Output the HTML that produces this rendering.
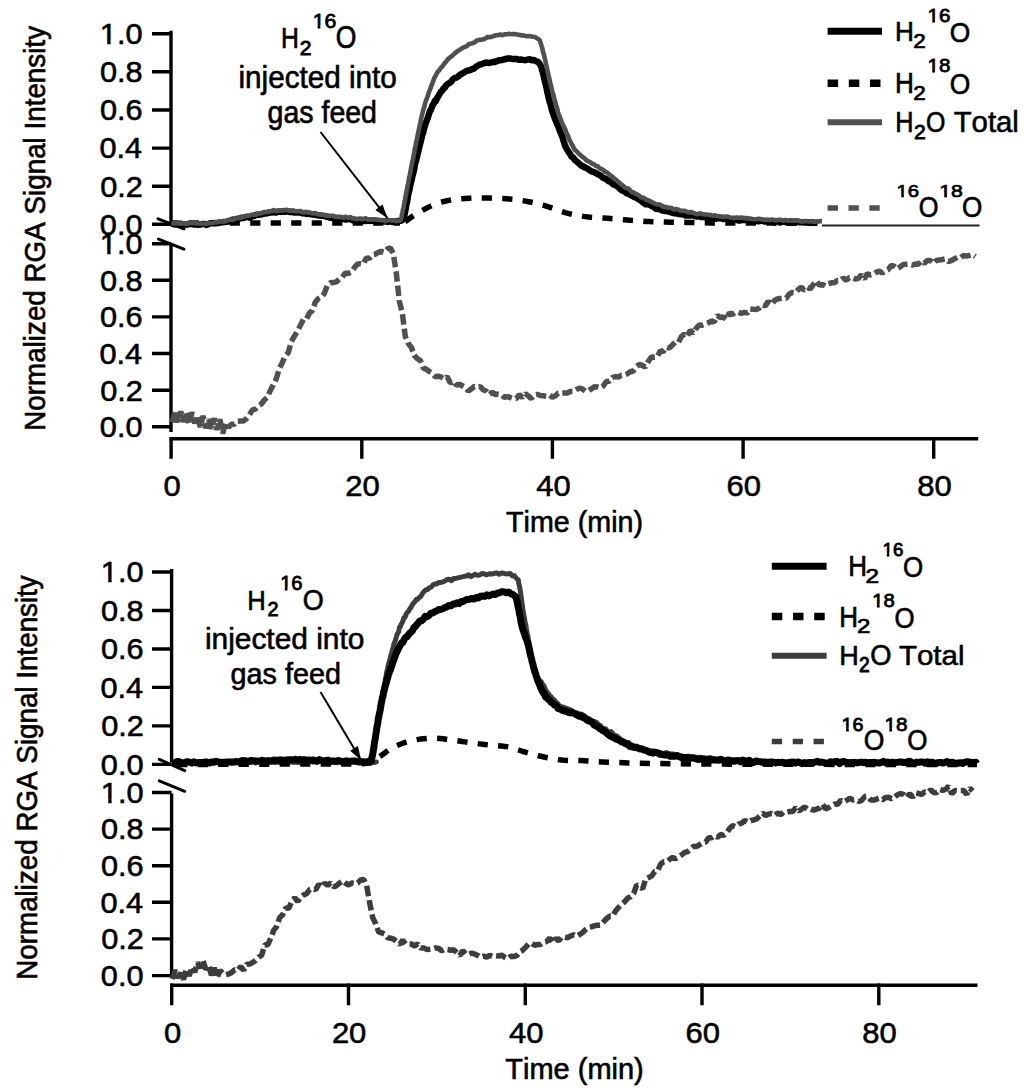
<!DOCTYPE html><html><head><meta charset="utf-8"><title>RGA signal</title><style>html,body{margin:0;padding:0;background:#fff;width:1024px;height:1092px;overflow:hidden;}svg{display:block;}text{font-family:"Liberation Sans",sans-serif;font-kerning:none;}</style></head><body><svg width="1024" height="1092" viewBox="0 0 1024 1092">
<rect width="1024" height="1092" fill="#fff"/>
<path d="M171.0 30.700000000000003V222.0M171.0 244.5V432.0" stroke="#000" stroke-width="3.4" fill="none"/>
<path d="M152 33.7H171.0M152 71.8H171.0M152 110.0H171.0M152 148.1H171.0M152 186.2H171.0M152 224.2H171.0M152 243.7H171.0M152 280.3H171.0M152 316.9H171.0M152 353.5H171.0M152 390.2H171.0M152 426.8H171.0" stroke="#000" stroke-width="3.4" fill="none"/>
<path d="M158.1 218.8L183.9 228.9" stroke="#000" stroke-width="3" stroke-linecap="round" fill="none"/>
<path d="M158.5 239.1L183.9 249.2" stroke="#000" stroke-width="3" stroke-linecap="round" fill="none"/>
<path d="M169.5 438.8H978.2" stroke="#000" stroke-width="3.4" fill="none"/>
<path d="M171.1 437.2V458.8M361.8 437.2V458.8M552.4 437.2V458.8M743.1 437.2V458.8M933.7 437.2V458.8" stroke="#000" stroke-width="3.4" fill="none"/>
<path d="M171.6 569.0V762.5M171.6 793.5V977.5" stroke="#000" stroke-width="3.4" fill="none"/>
<path d="M152 572.0H171.6M152 610.5H171.6M152 649.0H171.6M152 687.4H171.6M152 725.9H171.6M152 764.4H171.6M152 792.5H171.6M152 829.1H171.6M152 865.7H171.6M152 902.3H171.6M152 938.9H171.6M152 975.6H171.6" stroke="#000" stroke-width="3.4" fill="none"/>
<path d="M159.3 759.3L184.7 770.6" stroke="#000" stroke-width="3" stroke-linecap="round" fill="none"/>
<path d="M159.3 780.8L184.7 791.3" stroke="#000" stroke-width="3" stroke-linecap="round" fill="none"/>
<path d="M170.1 985.2H977.5" stroke="#000" stroke-width="3.4" fill="none"/>
<path d="M171.7 983.6V1005.2M348.5 983.6V1005.2M525.3 983.6V1005.2M702.0 983.6V1005.2M878.8 983.6V1005.2" stroke="#000" stroke-width="3.4" fill="none"/>
<path d="M171.5 223.0L180.0 223.0L191.8 223.0L205.8 223.0L220.8 223.0L235.9 223.0L250.0 223.0L263.4 223.0L276.9 223.0L290.5 223.0L304.0 223.0L317.2 223.0L330.0 223.0L343.1 223.0L356.7 223.0L370.0 223.0L382.2 223.0L392.5 223.0L400.0 223.0" stroke="#000" stroke-width="5.5" fill="none" stroke-linejoin="round" stroke-dasharray="10.2 10.3" stroke-dashoffset="3.3"/>
<path d="M400.0 223.0L400.6 222.8L401.4 222.6L402.4 222.4L403.5 222.1L404.8 221.6L406.0 221.0L407.2 220.2L408.4 219.3L409.7 218.3L411.2 217.2L413.0 215.9L415.1 214.6L417.7 213.1L420.8 211.3L424.2 209.4L427.7 207.6L431.2 205.9L434.4 204.5L437.4 203.4L440.2 202.5L443.0 201.7L445.9 201.0L448.8 200.4L451.8 199.9L455.0 199.4L458.4 199.0L461.8 198.7L465.2 198.5L468.6 198.3L471.9 198.1L475.0 198.0L478.1 197.9L481.0 197.9L484.0 198.0L487.0 198.0L490.1 198.1L493.3 198.2L496.5 198.3L499.7 198.4L502.9 198.5L506.2 198.7L509.4 199.0L512.6 199.3L515.8 199.7L519.1 200.1L522.3 200.6L525.5 201.1L528.6 201.7L531.7 202.3L534.8 203.0L537.8 203.8L540.8 204.6L543.9 205.4L546.9 206.3L549.9 207.3L552.9 208.4L555.8 209.5L558.8 210.7L561.9 211.7L565.2 212.7L568.7 213.6L572.4 214.4L576.2 215.1L580.0 215.8L583.7 216.4L587.3 216.9L590.7 217.3L594.1 217.6L597.4 217.8L600.7 217.9L603.9 218.1L607.2 218.3L610.5 218.6L613.8 218.9L617.1 219.2L620.5 219.4L623.7 219.7L627.0 220.0L630.2 220.3L633.4 220.5L636.5 220.8L639.7 221.0L642.9 221.2L646.1 221.4L649.4 221.6L652.7 221.7L656.0 221.8L659.3 221.9L662.6 222.0L666.0 222.1L669.2 222.2L672.3 222.2L675.4 222.3L678.7 222.3L682.3 222.3L686.5 222.4L690.6 222.5L694.3 222.6L698.4 222.7L703.6 222.8L710.5 222.9L720.0 223.0L733.7 223.1L751.5 223.1L771.1 223.1L790.2 223.2L806.6 223.2L818.0 223.2" stroke="#000" stroke-width="5.5" fill="none" stroke-linejoin="round" stroke-dasharray="10.2 10.3" stroke-dashoffset="15.13"/>
<path d="M171.5 223.6L173.7 224.2L175.9 224.4L178.1 224.0L180.3 223.7L182.5 224.2L184.7 224.4L186.9 224.7L189.1 223.9L191.3 223.8L193.5 224.5L195.7 224.4L197.9 224.8L200.1 224.5L202.3 224.1L204.5 224.0L206.7 224.9L208.9 223.8L211.1 223.4L213.3 223.1L215.5 223.3L217.6 223.0L219.8 222.5L222.0 222.3L224.2 222.0L226.3 221.8L228.5 221.5L230.6 220.8L232.8 219.6L234.9 220.0L237.1 218.8L239.2 218.7L241.4 217.8L243.5 217.9L245.7 217.1L247.8 217.0L250.0 217.7L252.1 216.1L254.3 215.9L256.5 214.7L258.6 214.7L260.8 214.6L262.9 213.9L265.1 213.6L267.3 213.2L269.4 212.4L271.6 212.6L273.8 211.9L276.0 212.6L278.2 211.6L280.4 211.9L282.6 211.5L284.8 211.8L287.0 211.3L289.2 212.0L291.4 211.7L293.6 212.4L295.7 212.4L297.9 212.4L300.1 212.4L302.3 213.2L304.5 213.3L306.7 214.0L308.8 213.6L311.0 214.3L313.2 214.6L315.4 214.8L317.5 215.2L319.7 215.6L321.9 215.7L324.0 215.9L326.2 216.5L328.4 217.1L330.6 217.8L332.7 217.9L334.9 218.1L337.1 218.3L339.3 218.5L341.5 218.6L343.7 219.0L345.9 219.5L348.1 219.0L350.3 219.1L352.4 220.2L354.6 219.8L356.8 220.2L359.0 220.3L361.2 219.8L363.4 221.1L365.6 221.0L367.8 220.6L370.0 220.9L372.2 220.8L374.4 220.6L376.6 220.9L378.8 221.2L381.0 221.5L383.2 221.5L385.4 221.4L387.6 221.9L389.8 221.3L392.0 221.9L394.2 222.0L396.4 221.6L398.6 220.9L400.7 220.8L402.5 219.9L403.7 218.4L404.2 216.7L404.7 213.6L405.1 211.8L405.5 209.9L405.9 207.4L406.3 204.5L406.7 203.4L407.1 201.8L407.5 199.2L407.9 196.3L408.3 194.4L408.7 192.4L409.2 191.1L409.7 188.3L410.1 185.9L410.6 184.3L411.1 181.6L411.6 180.1L412.2 177.1L412.7 175.0L413.2 173.3L413.7 171.4L414.2 169.0L414.6 166.7L415.1 163.8L415.6 162.1L416.2 160.0L416.7 157.9L417.2 156.1L417.7 153.7L418.2 151.9L418.7 149.5L419.2 147.2L419.7 145.3L420.3 143.2L420.8 141.3L421.4 138.7L421.9 136.6L422.5 134.1L423.1 133.0L423.6 130.8L424.2 128.1L424.9 125.9L425.5 123.6L426.2 122.0L426.9 119.9L427.6 118.5L428.4 115.8L429.2 113.4L430.0 110.7L430.8 110.0L431.7 107.6L432.7 105.0L433.7 103.7L434.7 101.1L435.9 101.0L437.0 98.3L438.3 96.3L439.5 94.2L440.8 91.8L442.1 90.7L443.5 88.5L444.9 87.5L446.4 85.0L447.9 83.8L449.5 83.0L451.2 81.7L452.9 79.4L454.7 78.0L456.5 77.6L458.3 76.4L460.2 74.6L462.1 73.6L464.0 72.5L466.0 71.3L468.0 70.5L470.0 70.3L472.0 69.1L473.9 68.6L475.9 66.8L477.8 65.7L479.8 64.5L481.8 64.1L484.0 63.1L486.1 62.5L488.3 62.9L490.4 62.7L492.6 62.1L494.8 61.9L496.9 61.1L499.1 60.3L501.2 60.2L503.4 59.6L505.6 59.0L507.8 58.5L509.9 58.4L512.1 58.9L514.3 59.0L516.5 58.9L518.7 59.7L520.9 59.5L523.1 59.9L525.3 60.2L527.5 59.6L529.7 59.2L531.9 60.2L534.1 60.0L536.2 61.2L538.1 61.9L539.6 63.8L540.6 65.7L541.4 66.7L542.0 69.8L542.6 71.5L543.1 73.6L543.7 75.8L544.2 78.4L544.7 80.5L545.2 82.7L545.6 83.9L546.1 86.5L546.6 88.0L547.1 90.9L547.6 93.3L548.1 95.0L548.6 97.5L549.1 99.6L549.7 102.0L550.3 103.5L550.8 105.6L551.4 107.7L552.1 110.7L552.7 112.6L553.4 114.3L554.1 116.5L554.9 118.5L555.7 120.6L556.5 122.5L557.3 124.5L558.2 126.2L559.0 128.4L559.9 131.3L560.7 132.9L561.5 134.8L562.3 136.7L563.0 138.9L563.6 141.1L564.3 142.9L565.0 145.3L565.8 147.3L566.8 148.9L567.9 150.8L569.1 152.6L570.3 154.4L571.7 156.8L573.1 157.4L574.6 159.7L576.2 161.1L577.9 162.5L579.7 164.1L581.5 165.7L583.3 166.5L585.2 167.5L587.1 168.4L589.1 169.7L591.0 171.2L592.9 171.8L594.8 172.6L596.7 173.6L598.7 174.6L600.6 175.6L602.6 177.5L604.5 178.3L606.4 179.2L608.3 181.0L610.1 181.5L611.9 183.2L613.6 184.6L615.4 185.1L617.2 186.3L619.0 187.8L620.9 189.6L622.7 190.9L624.6 191.2L626.5 193.1L628.4 193.7L630.3 194.8L632.2 195.8L634.2 197.0L636.1 197.5L638.0 198.8L639.9 199.8L641.9 201.5L643.8 203.1L645.7 204.3L647.7 204.3L649.7 204.8L651.7 206.1L653.7 206.8L655.7 208.7L657.8 208.9L659.9 209.2L662.0 210.4L664.1 210.9L666.2 210.7L668.4 211.6L670.5 212.2L672.6 212.8L674.8 213.3L677.0 213.5L679.1 214.1L681.3 214.2L683.5 214.4L685.7 215.5L687.8 215.4L690.0 215.6L692.2 215.1L694.4 215.9L696.6 216.5L698.8 216.0L701.0 217.1L703.1 216.8L705.3 217.3L707.5 217.3L709.7 217.7L711.9 218.2L714.1 217.9L716.3 218.7L718.5 218.1L720.7 218.2L722.9 219.0L725.1 218.5L727.2 218.9L729.4 219.5L731.6 219.8L733.8 218.9L736.0 219.8L738.2 220.5L740.4 220.4L742.6 220.0L744.8 220.0L747.0 220.2L749.2 220.1L751.4 220.5L753.6 220.6L755.8 220.8L758.0 221.3L760.2 221.0L762.4 220.6L764.6 221.6L766.8 221.0L769.0 221.3L771.2 221.5L773.4 221.5L775.6 221.3L777.8 221.6L780.0 222.6L782.2 221.6L784.4 221.9L786.6 222.3L788.8 222.2L791.0 222.3L793.2 222.4L795.4 221.4L797.6 221.8L799.8 222.2L802.0 222.3L804.2 222.6L806.4 222.4L808.6 222.2L810.8 222.3L813.0 222.2L814.0 222.4" stroke="#000" stroke-width="6.5" fill="none" stroke-linejoin="round" />
<path d="M822 225.5H979.5" stroke="#222" stroke-width="1.8" fill="none"/>
<path d="M171.5 222.7L173.7 223.3L175.9 223.2L178.1 223.1L180.3 223.7L182.5 223.4L184.7 223.3L186.9 224.0L189.1 223.2L191.3 222.9L193.5 222.9L195.7 223.1L197.9 223.5L200.1 223.5L202.3 223.6L204.5 223.7L206.7 223.6L208.9 223.1L211.1 223.2L213.3 222.8L215.5 222.1L217.6 222.3L219.8 221.7L222.0 221.3L224.2 221.7L226.3 220.8L228.5 220.0L230.6 219.6L232.8 220.0L234.9 218.6L237.1 218.5L239.2 217.9L241.4 217.4L243.5 217.0L245.7 216.1L247.8 215.7L250.0 215.3L252.1 214.8L254.3 214.8L256.4 214.6L258.6 213.3L260.7 213.4L262.9 212.4L265.1 212.1L267.2 211.9L269.4 211.6L271.6 211.1L273.8 210.1L275.9 211.3L278.1 210.5L280.3 210.2L282.5 210.6L284.7 210.1L286.9 209.9L289.1 210.6L291.3 210.8L293.5 210.5L295.7 211.3L297.9 211.3L300.1 211.1L302.3 212.3L304.4 212.1L306.6 211.9L308.8 212.7L311.0 212.9L313.2 213.5L315.3 213.0L317.5 214.2L319.7 214.5L321.9 214.8L324.0 215.1L326.2 215.6L328.4 215.7L330.6 215.8L332.8 215.7L334.9 216.7L337.1 216.9L339.3 216.9L341.5 217.1L343.7 217.6L345.9 216.7L348.1 217.9L350.2 217.1L352.4 218.3L354.6 218.8L356.8 219.2L359.0 218.6L361.2 219.0L363.4 219.0L365.6 218.3L367.8 219.5L370.0 219.3L372.2 219.4L374.4 219.2L376.6 219.6L378.8 219.7L381.0 220.2L383.2 220.0L385.4 221.2L387.6 220.0L389.8 220.2L392.0 220.4L394.2 220.2L396.4 221.1L398.6 220.8L400.4 220.3L401.0 218.6L401.6 216.9L402.1 213.8L402.5 212.2L402.9 209.9L403.4 208.7L403.8 205.8L404.2 203.4L404.6 201.2L405.0 199.9L405.4 196.9L405.8 195.7L406.3 192.2L406.7 190.5L407.1 188.3L407.5 186.0L408.0 184.0L408.4 182.2L408.8 179.6L409.2 177.1L409.7 175.9L410.1 173.8L410.5 170.9L411.0 169.1L411.4 165.9L411.8 165.1L412.2 162.1L412.7 160.2L413.1 159.0L413.5 155.6L414.0 153.9L414.4 151.4L414.8 148.9L415.3 147.0L415.7 145.4L416.1 142.6L416.5 140.7L417.0 139.1L417.4 136.6L417.9 134.0L418.3 132.9L418.7 130.2L419.2 128.5L419.7 125.5L420.1 124.3L420.6 121.1L421.0 118.8L421.5 117.1L422.0 115.0L422.5 113.1L423.1 110.6L423.6 108.9L424.2 107.1L424.9 104.3L425.5 101.9L426.2 100.2L426.9 98.5L427.7 96.4L428.4 94.0L429.1 91.7L429.9 89.9L430.6 88.2L431.4 85.5L432.1 84.2L432.9 81.7L433.7 79.7L434.5 77.4L435.5 76.1L436.6 73.8L437.9 71.4L439.1 70.4L440.5 68.2L441.9 67.0L443.3 65.0L444.7 63.1L446.1 61.6L447.5 59.7L449.1 58.1L450.7 56.9L452.4 55.7L454.0 54.0L455.7 52.6L457.5 51.1L459.2 50.2L461.1 48.8L462.9 47.9L464.9 46.7L466.9 46.3L468.8 44.1L470.9 43.7L472.9 43.0L474.9 42.3L476.9 40.5L479.0 39.9L481.1 39.7L483.2 39.4L485.2 38.7L487.3 37.1L489.5 37.1L491.6 36.9L493.7 36.0L495.9 35.3L498.1 35.1L500.3 34.5L502.4 35.2L504.6 34.4L506.8 34.2L509.0 33.9L511.2 34.2L513.4 34.0L515.6 34.1L517.8 34.7L520.0 34.9L522.2 35.4L524.3 35.6L526.5 36.2L528.7 36.0L530.9 36.3L533.1 36.7L535.2 37.0L537.2 38.5L538.9 39.3L540.0 40.9L540.9 43.9L541.5 45.8L542.1 47.5L542.6 50.1L543.2 52.3L543.7 54.3L544.2 55.8L544.7 58.4L545.2 60.1L545.7 62.4L546.2 64.6L546.6 66.6L547.1 69.2L547.6 70.9L548.1 73.6L548.6 75.6L549.1 77.4L549.6 79.8L550.1 82.2L550.6 84.5L551.2 86.1L551.7 89.0L552.2 90.7L552.7 93.1L553.3 94.3L553.8 96.5L554.4 99.4L555.0 101.0L555.6 103.4L556.2 105.8L556.8 107.0L557.4 109.7L558.1 112.4L558.7 114.1L559.4 115.9L560.2 118.1L561.0 120.0L561.8 122.3L562.7 124.5L563.6 125.9L564.6 128.2L565.5 130.1L566.3 132.3L567.2 134.4L568.0 135.7L568.9 138.6L569.7 140.5L570.6 141.8L571.6 144.1L572.6 145.6L573.7 147.9L575.0 149.9L576.4 151.1L577.9 152.8L579.5 154.3L581.2 155.8L582.9 157.2L584.6 158.4L586.4 160.3L588.2 161.2L590.1 162.1L592.1 163.8L594.0 164.3L595.9 165.9L597.8 166.3L599.6 168.4L601.5 169.0L603.3 170.0L605.1 171.8L606.9 172.4L608.7 173.8L610.5 175.6L612.2 176.6L614.0 178.3L615.7 179.6L617.4 181.0L619.0 182.4L620.7 184.0L622.4 185.1L624.2 186.9L626.0 188.1L627.8 188.3L629.6 189.6L631.5 191.9L633.4 192.3L635.3 193.6L637.3 194.6L639.2 195.7L641.1 197.5L643.0 197.5L645.0 198.9L646.9 199.9L648.9 200.5L650.8 201.5L652.8 202.7L654.9 203.6L656.9 204.5L659.0 204.4L661.1 205.1L663.3 206.9L665.4 206.8L667.5 207.7L669.7 207.7L671.8 208.1L673.9 209.6L676.1 209.0L678.2 209.6L680.4 210.6L682.5 210.8L684.7 210.7L686.8 211.8L689.0 212.4L691.1 212.0L693.3 212.8L695.5 213.6L697.7 214.3L699.8 213.2L702.0 214.0L704.2 214.5L706.4 214.5L708.6 214.7L710.8 215.1L712.9 215.7L715.1 215.3L717.3 216.2L719.5 216.4L721.7 216.6L723.9 217.1L726.1 216.6L728.3 216.9L730.5 217.5L732.7 217.8L734.8 217.9L737.0 217.6L739.2 217.7L741.4 217.6L743.6 218.1L745.8 218.1L748.0 218.4L750.2 218.6L752.4 219.1L754.6 219.3L756.8 219.1L759.0 218.8L761.2 219.3L763.4 219.6L765.6 219.8L767.8 219.7L770.0 220.0L772.2 219.5L774.4 220.1L776.6 220.2L778.8 219.9L781.0 219.9L783.2 220.7L785.4 220.0L787.6 220.6L789.8 220.4L792.0 220.4L794.2 220.6L796.4 220.6L798.6 220.8L800.8 221.5L803.0 221.5L805.2 221.0L807.4 221.3L809.6 221.5L811.7 221.1L813.9 222.0L816.1 221.4L818.3 221.6L820.5 221.1L822.0 221.1" stroke="#505050" stroke-width="4.6" fill="none" stroke-linejoin="round" />
<path d="M172.3 422.3L175.1 410.3L177.9 422.4L180.7 411.4L183.5 421.9L186.3 412.1L189.1 424.1L191.9 412.3L194.7 423.2L197.5 416.1L200.3 427.0L203.1 415.9L205.9 428.2L208.7 419.2L211.5 428.8L214.3 418.3L217.1 429.8L219.9 419.3L222.7 433.6L225.5 422.8L228.3 427.4L231.3 424.3L234.3 424.2L237.3 421.2L240.3 421.1L243.3 421.1L246.3 418.8L249.3 415.2L252.3 410.0L255.3 409.2L258.3 405.8L261.3 404.0L264.3 400.0L267.3 397.4L270.3 390.5L273.3 384.9L276.3 378.7L279.3 368.6L282.3 362.7L285.3 355.7L288.3 352.6L291.3 341.7L294.3 336.4L297.3 331.4L300.3 325.6L303.3 319.4L306.3 319.3L309.3 313.2L312.3 310.7L315.3 302.2L318.3 298.6L321.3 297.1L324.3 293.4L327.3 285.6L330.3 282.8L333.3 282.6L336.3 281.9L339.3 279.1L342.3 277.2L345.3 273.0L348.3 273.5L351.3 272.2L354.3 267.8L357.3 264.3L360.3 263.6L363.3 264.1L366.3 257.9L369.3 258.4L372.3 254.8L375.3 254.2L378.3 252.4L381.3 251.3L384.3 252.3L387.3 249.1L390.3 247.7L393.3 253.5L396.3 272.9L399.3 300.9L402.3 313.0L405.3 336.5L408.3 343.6L411.3 347.2L414.3 355.3L417.3 358.6L420.3 360.3L423.3 367.9L426.3 369.3L429.3 371.5L432.3 373.3L435.3 376.8L438.3 376.2L441.3 377.2L444.3 379.1L447.3 376.8L450.3 383.1L453.3 381.1L456.3 385.2L459.3 384.3L462.3 385.8L465.3 387.4L468.3 391.0L471.3 388.9L474.3 386.5L477.3 387.1L480.3 386.6L483.3 390.0L486.3 391.0L489.3 394.6L492.3 392.2L495.3 394.5L498.3 394.1L501.3 394.7L504.3 397.3L507.3 396.6L510.3 397.5L513.3 398.6L516.3 398.6L519.3 394.6L522.3 397.5L525.3 393.6L528.3 395.9L531.3 398.6L534.3 394.9L537.3 394.4L540.3 395.5L543.3 395.8L546.3 396.2L549.3 394.9L552.3 397.2L555.3 395.9L558.3 393.1L561.3 393.1L564.3 393.0L567.3 393.0L570.3 391.5L573.3 391.5L576.3 389.6L579.3 388.1L582.3 388.9L585.3 391.2L588.3 390.8L591.3 388.9L594.3 386.8L597.3 387.0L600.3 387.9L603.3 386.0L606.3 381.5L609.3 381.2L612.3 377.5L615.3 376.5L618.3 377.1L621.3 375.2L624.3 375.0L627.3 373.9L630.3 371.7L633.3 371.0L636.3 366.7L639.3 364.3L642.3 365.4L645.3 367.1L648.3 361.5L651.3 357.1L654.3 357.2L657.3 357.0L660.3 350.8L663.3 351.6L666.3 347.2L669.3 348.1L672.3 345.1L675.3 342.2L678.3 342.7L681.3 336.7L684.3 334.2L687.3 336.4L690.3 330.2L693.3 333.4L696.3 328.1L699.3 325.0L702.3 325.2L705.3 324.0L708.3 322.8L711.3 321.0L714.3 321.9L717.3 315.5L720.3 317.5L723.3 317.1L726.3 319.7L729.3 312.8L732.3 314.5L735.3 312.4L738.3 312.3L741.3 313.5L744.3 312.3L747.3 313.1L750.3 308.9L753.3 309.3L756.3 309.6L759.3 308.0L762.3 304.8L765.3 305.9L768.3 301.4L771.3 304.5L774.3 300.7L777.3 299.0L780.3 298.4L783.3 298.1L786.3 298.2L789.3 294.0L792.3 292.5L795.3 292.9L798.3 289.5L801.3 287.2L804.3 290.3L807.3 287.4L810.3 288.9L813.3 284.6L816.3 280.9L819.3 285.2L822.3 284.3L825.3 286.0L828.3 283.7L831.3 282.8L834.3 282.7L837.3 280.6L840.3 280.7L843.3 277.9L846.3 280.3L849.3 277.6L852.3 277.6L855.3 278.9L858.3 278.6L861.3 274.8L864.3 278.8L867.3 273.7L870.3 275.0L873.3 274.3L876.3 272.2L879.3 271.2L882.3 273.0L885.3 270.8L888.3 269.5L891.3 265.2L894.3 266.4L897.3 268.9L900.3 266.8L903.3 264.4L906.3 264.3L909.3 264.2L912.3 265.1L915.3 264.0L918.3 264.3L921.3 260.9L924.3 263.2L927.3 260.4L930.3 260.4L933.3 263.4L936.3 260.5L939.3 259.9L942.3 259.5L945.3 258.9L948.3 261.5L951.3 260.7L954.3 258.9L957.3 257.3L960.3 258.0L963.3 255.6L966.3 256.0L969.3 255.5L972.3 254.5L975.3 256.6" stroke="#505050" stroke-width="5.5" fill="none" stroke-linejoin="bevel" stroke-dasharray="10.5 4"/>
<path d="M172.0 762.4L174.2 763.4L176.4 762.0L178.6 761.4L180.8 762.6L183.0 762.8L185.2 762.7L187.4 762.8L189.6 762.4L191.8 762.1L194.0 762.0L196.2 762.3L198.4 762.2L200.6 763.0L202.8 762.8L205.0 761.6L207.2 762.8L209.4 762.3L211.6 763.0L213.8 763.2L216.0 762.7L218.2 761.2L220.4 762.7L222.6 761.3L224.8 763.2L227.0 761.9L229.2 762.1L231.4 763.3L233.6 761.2L235.8 762.2L238.0 761.6L240.2 761.9L242.4 761.7L244.6 762.6L246.8 762.0L249.0 762.4L251.2 762.5L253.4 761.1L255.6 763.0L257.8 762.0L260.0 761.1L262.2 761.7L264.4 762.6L266.6 762.7L268.8 761.6L271.0 762.1L273.2 762.2L275.4 762.6L277.6 761.9L279.8 762.6L282.0 761.4L284.2 761.5L286.4 762.4L288.6 762.4L290.8 761.9L293.0 762.3L295.2 762.0L297.4 762.4L299.6 762.6L301.8 762.2L304.0 762.4L306.2 761.6L308.4 761.5L310.6 760.4L312.8 762.1L315.0 761.8L317.2 762.1L319.4 760.6L321.6 761.5L323.8 761.4L326.0 760.6L328.2 762.3L330.4 762.5L332.6 760.9L334.8 762.0L337.0 762.7L339.2 760.9L341.4 762.3L343.6 762.6L345.8 762.8L348.0 760.8L350.2 761.0L352.4 761.7L354.6 762.3L356.8 760.8L359.0 761.1L361.2 760.9L363.4 762.2L365.6 761.2L367.8 761.9L370.0 762.0L372.2 762.3L374.4 761.9L376.4 761.9L374.2 762.5L372.0 762.1L369.8 761.0L370.3 760.9L371.5 760.0L372.0 757.4L372.5 754.9L372.9 753.1L373.3 752.9L373.6 748.6L373.9 746.8L374.3 744.6L374.6 742.0L374.9 740.7L375.3 738.3L375.7 735.9L376.0 732.6L376.4 732.0L376.8 729.6L377.1 726.9L377.5 723.1L377.8 722.6L378.2 719.7L378.6 718.1L378.9 715.8L379.3 713.4L379.6 712.4L380.0 709.6L380.4 708.2L380.7 704.6L381.1 702.9L381.4 701.7L381.8 698.9L382.2 696.1L382.5 693.8L382.9 691.8L383.3 690.0L383.7 688.3L384.1 685.8L384.5 684.0L384.9 681.9L385.3 679.3L385.7 677.9L386.2 675.4L386.6 672.6L387.1 670.5L387.6 668.5L388.1 665.9L388.7 663.4L389.2 662.1L389.8 659.6L390.3 658.2L390.9 655.3L391.5 653.6L392.0 651.6L392.6 649.0L393.2 647.3L393.8 644.6L394.4 642.7L395.1 641.4L395.8 639.0L396.5 636.7L397.2 634.1L397.9 633.0L398.7 631.7L399.5 627.1L400.3 627.0L401.1 624.5L402.0 623.0L402.9 621.1L403.9 617.7L405.0 617.5L406.1 614.2L407.2 612.5L408.5 611.2L409.7 609.0L410.9 607.4L412.2 605.1L413.5 603.0L414.8 601.9L416.2 599.5L417.7 599.4L419.3 597.2L420.9 596.4L422.6 593.3L424.2 591.3L425.9 589.8L427.6 589.6L429.3 587.6L431.1 587.3L432.9 585.0L434.8 583.9L436.7 583.9L438.7 582.5L440.8 582.4L442.9 581.8L445.0 581.0L447.1 579.5L449.3 579.2L451.4 580.6L453.5 578.6L455.7 578.4L457.9 577.9L460.0 577.4L462.2 576.9L464.4 576.3L466.5 576.0L468.7 574.8L470.9 576.7L473.1 575.3L475.2 574.3L477.4 575.2L479.6 575.0L481.8 573.5L484.0 573.8L486.2 574.8L488.4 574.1L490.6 573.8L492.8 574.0L494.9 573.2L497.1 573.0L499.3 574.2L501.5 573.1L503.7 573.3L505.9 573.9L508.1 573.8L510.3 573.5L512.4 576.0L514.4 575.6L516.2 578.1L517.4 579.1L518.3 580.2L518.8 583.9L519.2 585.0L519.6 586.7L520.0 589.4L520.3 590.3L520.7 594.0L521.0 595.5L521.3 598.0L521.6 599.7L522.0 602.9L522.3 604.9L522.6 607.5L522.9 610.0L523.2 611.3L523.6 613.4L523.9 615.7L524.3 617.2L524.7 619.5L525.1 622.5L525.5 623.7L525.9 625.2L526.3 628.3L526.7 630.8L527.1 633.7L527.5 634.5L528.0 636.6L528.4 639.4L528.8 641.4L529.2 643.8L529.6 645.5L530.1 648.1L530.5 649.8L530.9 652.9L531.2 654.6L531.6 657.0L531.9 658.5L532.3 660.1L532.7 663.1L533.1 665.2L533.5 668.1L534.0 670.2L534.6 671.7L535.4 673.7L536.3 675.2L537.4 677.6L538.7 679.5L540.2 680.8L541.6 682.1L542.9 685.3L544.0 685.8L545.2 689.3L546.3 690.9L547.4 693.1L548.5 693.5L549.8 696.2L551.1 696.7L552.6 699.0L554.1 699.8L555.7 701.8L557.4 703.3L559.2 705.5L561.1 706.7L563.0 706.9L565.0 708.0L566.9 708.5L568.9 709.4L570.9 709.9L573.0 711.6L575.1 712.9L577.1 712.8L579.2 714.2L581.2 714.1L583.3 715.1L585.2 716.4L587.1 718.3L589.0 718.5L590.9 720.5L592.8 721.0L594.7 721.7L596.5 722.3L598.3 724.4L600.2 725.4L602.0 727.7L603.8 728.7L605.6 728.7L607.5 731.4L609.3 732.4L611.1 731.5L613.0 733.9L614.8 735.8L616.7 735.8L618.6 737.5L620.5 739.3L622.5 740.2L624.4 741.3L626.4 742.4L628.4 742.4L630.5 745.2L632.5 744.9L634.5 746.7L636.6 746.0L638.7 747.2L640.7 747.8L642.8 748.2L644.9 749.1L647.1 749.7L649.2 750.6L651.3 750.8L653.5 751.1L655.6 751.9L657.8 752.9L659.9 752.5L662.1 753.2L664.3 753.4L666.4 752.5L668.6 753.5L670.8 753.8L672.9 753.9L675.1 754.7L677.3 754.4L679.5 755.9L681.6 755.7L683.8 757.1L686.0 756.8L688.2 756.1L690.4 757.0L692.6 757.3L694.8 757.1L696.9 757.5L699.1 757.3L701.3 757.7L703.5 758.4L705.7 758.2L707.9 759.3L710.1 757.5L712.3 758.4L714.5 758.8L716.7 760.1L718.9 760.0L721.1 759.9L723.3 760.2L725.5 760.7L727.7 760.3L729.9 759.8L732.1 760.2L734.3 759.8L736.5 760.2L738.6 760.7L740.8 760.3L743.0 760.7L745.2 760.5L747.4 760.1L749.6 760.2L751.8 761.6L754.0 761.3L756.2 761.9L758.4 761.4L760.6 761.6L762.8 761.9L765.0 761.6L767.2 762.8L769.4 762.7L771.6 762.4L773.8 761.6L776.0 762.1L778.2 762.6L780.4 763.3L782.6 762.7L784.8 762.8L785.0 763.1" stroke="#3d3d3d" stroke-width="5" fill="none" stroke-linejoin="round" />
<path d="M172.0 764.5L186.7 764.4L207.5 764.4L231.9 764.3L257.3 764.2L280.8 764.1L300.0 764.0L315.1 764.0L328.3 764.0L339.7 764.0L349.6 764.0L358.0 763.8L365.0 763.5L370.0 763.0L372.8 762.4L374.1 761.6L374.7 760.7L375.5 759.7L377.1 758.4L379.5 756.8L382.0 755.0L384.7 753.0L387.4 750.9L390.2 749.0L393.2 747.3L396.3 745.8L399.6 744.5L403.0 743.2L406.4 742.1L409.9 741.1L413.3 740.3L416.7 739.6L420.1 739.1L423.5 738.8L426.9 738.5L430.3 738.4L433.5 738.3L436.7 738.3L439.8 738.5L442.8 738.8L445.8 739.2L448.7 739.5L451.6 739.9L454.4 740.3L457.0 740.6L459.5 741.0L462.1 741.5L464.8 741.9L467.7 742.3L470.8 742.7L474.1 743.2L477.6 743.6L481.0 744.1L484.5 744.5L487.9 744.9L491.3 745.2L494.7 745.5L498.1 745.7L501.5 746.0L504.8 746.4L508.0 746.9L511.1 747.6L514.1 748.5L517.1 749.5L520.1 750.5L523.0 751.5L526.1 752.4L529.2 753.3L532.4 754.1L535.6 755.0L538.8 755.8L542.0 756.5L545.2 757.2L548.4 757.8L551.7 758.4L555.0 759.0L558.2 759.5L561.5 759.9L564.8 760.2L568.0 760.4L571.1 760.5L574.2 760.5L577.4 760.5L580.8 760.6L584.4 760.7L587.6 760.9L590.1 761.1L592.8 761.4L596.5 761.7L601.9 762.0L610.0 762.3L619.1 762.6L628.3 762.9L639.3 763.2L653.8 763.5L673.4 763.8L700.0 764.0L738.6 764.2L788.7 764.3L844.1 764.4L898.3 764.4L944.7 764.5L977.0 764.5" stroke="#000" stroke-width="5.5" fill="none" stroke-linejoin="round" stroke-dasharray="10.2 10.3" stroke-dashoffset="15.33"/>
<path d="M172.0 763.1L174.2 763.0L176.4 761.8L178.6 761.5L180.8 762.4L183.0 762.8L185.2 762.4L187.4 761.7L189.6 762.2L191.8 763.1L194.0 761.7L196.2 762.9L198.4 762.6L200.6 762.5L202.8 762.6L205.0 762.0L207.2 762.1L209.4 763.1L211.6 761.9L213.8 761.9L216.0 761.3L218.2 761.8L220.4 762.3L222.6 762.5L224.8 762.2L227.0 762.1L229.2 762.1L231.4 761.9L233.6 762.2L235.8 761.5L238.0 762.1L240.2 761.5L242.4 760.6L244.6 760.7L246.8 761.2L249.0 761.0L251.2 760.5L253.4 760.7L255.6 761.0L257.8 761.1L260.0 761.2L262.2 760.3L264.4 760.8L266.6 761.0L268.8 760.6L271.0 761.2L273.2 760.1L275.4 760.2L277.6 760.3L279.8 759.9L282.0 760.1L284.2 760.2L286.4 760.0L288.6 759.8L290.8 759.8L293.0 760.0L295.2 759.3L297.4 760.1L299.6 759.5L301.8 760.0L304.0 759.6L306.2 760.2L308.4 760.1L310.6 760.2L312.8 760.0L315.0 760.5L317.2 761.3L319.4 759.6L321.6 760.8L323.8 760.8L326.0 760.5L328.2 760.1L330.4 761.6L332.6 760.9L334.8 761.4L337.0 760.8L339.2 760.6L341.4 761.6L343.6 761.5L345.8 761.0L348.0 761.1L350.2 761.6L352.3 760.9L354.5 761.0L356.7 761.4L358.9 762.0L361.1 762.0L363.3 761.7L365.5 762.4L367.7 761.7L369.9 761.0L371.3 761.0L371.9 757.5L372.4 755.8L372.8 753.7L373.2 751.3L373.5 749.2L373.9 747.2L374.2 745.0L374.5 742.2L374.9 740.4L375.2 738.9L375.6 736.4L375.9 733.6L376.3 731.7L376.6 729.0L377.0 726.7L377.4 724.9L377.7 723.8L378.1 720.5L378.5 717.7L378.9 716.4L379.3 714.0L379.7 712.5L380.1 710.6L380.5 707.7L380.9 705.7L381.3 703.1L381.7 701.9L382.2 698.8L382.6 697.1L383.1 696.1L383.6 692.3L384.1 690.7L384.6 688.5L385.1 686.6L385.7 684.4L386.3 682.8L386.9 680.2L387.6 678.2L388.2 675.2L388.9 673.9L389.6 671.0L390.4 670.1L391.1 667.4L391.8 665.9L392.6 663.1L393.3 661.3L394.0 659.2L394.7 657.4L395.5 655.0L396.4 652.7L397.4 650.9L398.4 648.8L399.4 646.7L400.5 644.7L401.7 642.7L402.9 642.5L404.2 639.4L405.5 637.5L407.0 636.8L408.4 634.8L409.8 633.0L411.3 631.9L412.6 630.5L413.9 627.4L415.2 626.8L416.6 624.6L418.1 623.3L419.7 621.0L421.5 620.7L423.3 619.2L425.1 616.2L426.9 616.8L428.8 615.7L430.7 613.3L432.6 613.1L434.6 611.8L436.6 611.0L438.6 609.6L440.6 609.5L442.7 608.8L444.8 607.6L446.8 607.0L448.9 605.4L451.0 605.8L453.0 604.1L455.1 604.0L457.1 602.7L459.2 603.6L461.2 601.5L463.3 601.5L465.4 600.0L467.5 599.4L469.6 599.2L471.8 598.4L473.9 599.1L476.1 597.5L478.3 598.0L480.4 596.3L482.6 596.1L484.8 596.4L486.9 594.9L489.0 596.0L491.2 594.8L493.3 594.1L495.5 594.5L497.6 593.0L499.8 592.7L502.0 591.6L504.2 591.9L506.4 592.7L508.6 592.0L510.8 593.7L512.9 594.5L514.5 595.7L515.6 596.5L516.4 599.0L517.0 600.8L517.5 604.0L518.0 606.3L518.4 607.8L518.9 610.1L519.3 612.4L519.7 614.8L520.1 616.2L520.5 618.3L520.9 621.3L521.3 623.3L521.8 625.5L522.3 627.4L523.0 629.8L523.7 631.8L524.4 633.3L525.2 636.5L525.9 638.3L526.6 639.7L527.3 641.9L527.8 643.7L528.4 645.5L528.9 647.8L529.4 649.8L529.9 652.3L530.4 654.9L530.9 656.9L531.5 658.3L532.0 661.1L532.5 663.0L533.1 664.9L533.7 668.1L534.3 669.2L534.9 672.2L535.5 673.0L536.2 676.1L536.9 677.7L537.7 680.6L538.5 682.4L539.3 683.8L540.2 686.5L541.1 688.8L542.1 690.8L543.2 692.8L544.3 693.8L545.5 696.9L546.8 697.4L548.1 699.3L549.6 700.2L551.2 702.4L552.9 703.2L554.6 705.3L556.5 705.6L558.3 708.6L560.3 709.1L562.3 710.4L564.3 711.0L566.4 711.3L568.4 712.3L570.5 712.9L572.5 712.6L574.6 713.7L576.7 714.8L578.8 716.2L580.8 715.8L582.8 717.5L584.8 718.1L586.7 719.8L588.6 721.0L590.4 721.3L592.3 722.4L594.1 725.0L595.9 726.0L597.7 726.7L599.5 728.4L601.3 729.3L603.1 730.8L604.9 731.6L606.8 733.3L608.6 735.0L610.5 736.1L612.4 737.1L614.3 737.7L616.2 739.2L618.1 739.6L620.0 740.7L621.9 742.0L623.9 742.4L625.8 744.0L627.9 744.0L629.9 746.5L631.9 746.9L634.0 747.4L636.1 747.6L638.2 748.3L640.3 749.1L642.4 749.1L644.5 750.3L646.6 750.6L648.8 752.0L650.9 752.7L653.1 753.2L655.2 752.2L657.4 752.6L659.6 754.3L661.7 754.4L663.9 754.9L666.1 755.0L668.3 755.2L670.4 756.4L672.6 756.1L674.8 756.3L677.0 755.8L679.2 756.6L681.3 757.5L683.5 757.4L685.7 757.8L687.9 757.5L690.1 758.2L692.3 757.8L694.5 758.2L696.6 759.0L698.8 759.5L701.0 758.7L703.2 758.9L705.4 759.1L707.6 759.2L709.8 759.5L712.0 760.1L714.2 759.9L716.4 759.9L718.6 760.3L720.8 759.3L723.0 760.2L725.2 761.4L727.4 760.0L729.6 760.3L731.8 760.8L734.0 761.3L736.2 760.8L738.4 760.5L740.6 761.8L742.8 760.0L745.0 760.8L747.2 761.0L749.4 760.3L751.6 762.2L753.8 762.6L756.0 760.9L758.2 761.6L760.4 761.7L762.5 762.3L764.7 761.9L766.9 762.3L769.1 762.3L771.3 762.1L773.5 762.2L775.7 762.9L777.9 762.3L780.1 762.6L782.3 762.3L784.5 762.7L786.7 763.1L788.9 762.4L791.1 762.1L793.3 762.0L795.5 762.9L797.7 762.0L799.9 762.6L802.1 763.7L804.3 762.5L806.5 763.3L808.7 762.4L810.9 762.4L813.1 762.7L815.3 762.0L817.5 761.2L819.7 762.4L821.9 762.1L824.1 762.6L826.3 763.4L828.5 762.8L830.7 761.7L832.9 762.7L835.1 761.6L837.3 761.4L839.5 763.6L841.7 762.0L843.9 761.4L846.1 762.4L848.3 762.4L850.5 762.7L852.7 762.4L854.9 762.4L857.1 762.9L859.3 762.4L861.5 762.1L863.7 762.7L865.9 762.2L868.1 763.0L870.3 762.5L872.5 762.4L874.7 762.3L876.9 762.8L879.1 763.0L881.3 762.4L883.5 761.4L885.7 762.9L887.9 762.1L890.1 762.8L892.3 762.2L894.5 762.7L896.7 762.4L898.9 762.1L901.1 761.9L903.3 762.5L905.5 762.6L907.7 761.7L909.9 761.3L912.1 762.7L914.3 763.6L916.5 762.1L918.7 762.4L920.9 762.0L923.1 761.9L925.3 763.3L927.5 761.7L929.7 762.7L931.9 762.2L934.1 762.8L936.3 763.3L938.5 762.6L940.7 762.4L942.9 763.1L945.1 762.4L947.3 761.6L949.5 763.2L951.7 762.3L953.9 762.6L956.1 763.6L958.3 763.0L960.5 762.7L962.7 763.4L964.9 762.1L967.1 761.7L969.3 761.9L971.5 762.6L973.7 762.6L975.9 762.2L977.0 763.6" stroke="#000" stroke-width="7" fill="none" stroke-linejoin="round" />
<path d="M172.3 979.0L175.1 970.1L177.9 977.8L180.7 973.0L183.5 979.6L186.3 969.6L189.1 976.0L191.9 967.1L194.7 972.2L197.5 962.6L200.3 967.9L203.1 960.6L205.9 969.5L208.7 965.9L211.5 975.2L214.3 967.6L217.1 978.0L219.9 970.3L222.7 973.2L225.7 974.8L228.7 974.0L231.7 972.5L234.7 969.7L237.7 970.3L240.7 966.6L243.7 970.2L246.7 964.3L249.7 964.1L252.7 962.4L255.7 960.5L258.7 957.2L261.7 955.3L264.7 944.7L267.7 944.9L270.7 938.4L273.7 930.4L276.7 926.5L279.7 917.5L282.7 914.7L285.7 907.9L288.7 908.3L291.7 901.5L294.7 897.8L297.7 901.5L300.7 897.2L303.7 894.8L306.7 893.7L309.7 889.5L312.7 888.6L315.7 889.6L318.7 884.3L321.7 887.2L324.7 883.1L327.7 885.4L330.7 882.8L333.7 887.0L336.7 885.5L339.7 882.9L342.7 880.8L345.7 883.3L348.7 885.0L351.7 883.0L354.7 883.6L357.7 882.9L360.7 879.9L363.7 879.4L366.7 885.8L369.7 903.1L372.7 917.6L375.7 923.8L378.7 932.1L381.7 932.7L384.7 934.1L387.7 937.8L390.7 938.2L393.7 939.2L396.7 941.8L399.7 944.3L402.7 940.2L405.7 944.0L408.7 943.9L411.7 944.1L414.7 946.1L417.7 943.7L420.7 948.1L423.7 947.9L426.7 949.4L429.7 949.3L432.7 948.9L435.7 947.9L438.7 948.5L441.7 950.7L444.7 949.1L447.7 949.5L450.7 950.2L453.7 949.8L456.7 952.6L459.7 955.7L462.7 950.5L465.7 953.9L468.7 954.2L471.7 953.0L474.7 954.1L477.7 955.4L480.7 957.2L483.7 956.1L486.7 957.1L489.7 955.3L492.7 956.4L495.7 955.7L498.7 956.1L501.7 955.1L504.7 957.2L507.7 958.7L510.7 956.3L513.7 956.6L516.7 955.7L519.7 951.8L522.7 950.2L525.7 947.1L528.7 943.8L531.7 943.2L534.7 945.4L537.7 944.5L540.7 944.4L543.7 942.2L546.7 941.5L549.7 938.1L552.7 942.5L555.7 938.3L558.7 941.0L561.7 936.9L564.7 937.0L567.7 937.7L570.7 936.0L573.7 934.7L576.7 936.2L579.7 934.5L582.7 932.5L585.7 929.6L588.7 927.4L591.7 926.8L594.7 925.7L597.7 925.3L600.7 925.1L603.7 921.7L606.7 918.5L609.7 916.1L612.7 916.1L615.7 910.7L618.7 907.3L621.7 904.2L624.7 901.7L627.7 898.0L630.7 896.7L633.7 893.3L636.7 884.8L639.7 886.5L642.7 888.8L645.7 878.9L648.7 877.5L651.7 876.1L654.7 871.4L657.7 870.8L660.7 864.0L663.7 861.8L666.7 861.7L669.7 859.3L672.7 857.4L675.7 858.7L678.7 856.8L681.7 854.8L684.7 852.4L687.7 851.6L690.7 849.1L693.7 846.3L696.7 846.5L699.7 844.6L702.7 842.6L705.7 842.1L708.7 837.8L711.7 837.8L714.7 835.8L717.7 837.3L720.7 834.4L723.7 835.5L726.7 833.0L729.7 828.3L732.7 825.6L735.7 826.7L738.7 824.1L741.7 823.1L744.7 820.5L747.7 822.2L750.7 820.5L753.7 820.0L756.7 818.9L759.7 816.1L762.7 813.1L765.7 815.5L768.7 814.1L771.7 813.5L774.7 815.2L777.7 812.9L780.7 814.8L783.7 812.1L786.7 812.3L789.7 811.5L792.7 811.4L795.7 807.7L798.7 811.0L801.7 809.1L804.7 807.0L807.7 809.4L810.7 808.8L813.7 810.2L816.7 809.0L819.7 808.1L822.7 804.3L825.7 808.9L828.7 807.6L831.7 805.4L834.7 803.9L837.7 804.3L840.7 800.2L843.7 802.1L846.7 800.4L849.7 798.2L852.7 800.0L855.7 799.6L858.7 801.5L861.7 800.4L864.7 796.6L867.7 796.4L870.7 799.9L873.7 800.1L876.7 799.1L879.7 798.1L882.7 799.7L885.7 797.4L888.7 797.3L891.7 798.8L894.7 796.9L897.7 794.6L900.7 793.5L903.7 794.6L906.7 797.4L909.7 793.6L912.7 797.1L915.7 792.9L918.7 793.5L921.7 794.6L924.7 791.8L927.7 792.6L930.7 789.8L933.7 792.4L936.7 792.7L939.7 789.4L942.7 790.4L945.7 789.2L948.7 786.2L951.7 793.9L954.7 790.5L957.7 790.9L960.7 790.5L963.7 790.5L966.7 794.4L969.7 788.2L972.7 791.1" stroke="#3d3d3d" stroke-width="5.5" fill="none" stroke-linejoin="bevel" stroke-dasharray="10.5 4"/>
<path d="M320.5 132L387.5 218.2" stroke="#000" stroke-width="2" fill="none"/>
<path d="M387.5 218.2L375.4 209.9L382.5 204.4Z" fill="#000"/>
<path d="M320.5 692L361.2 760.4" stroke="#000" stroke-width="2" fill="none"/>
<path d="M361.2 760.4L350.2 750.7L357.9 746.1Z" fill="#000"/>
<text transform="translate(99.85 44.00) scale(1.0400 1)" font-size="29.50" fill="#000" stroke="#000" stroke-width="0.58" font-family="Liberation Sans, sans-serif">1.0</text>
<text transform="translate(99.98 82.10) scale(1.0400 1)" font-size="29.50" fill="#000" stroke="#000" stroke-width="0.58" font-family="Liberation Sans, sans-serif">0.8</text>
<text transform="translate(100.00 120.30) scale(1.0400 1)" font-size="29.50" fill="#000" stroke="#000" stroke-width="0.58" font-family="Liberation Sans, sans-serif">0.6</text>
<text transform="translate(99.55 158.40) scale(1.0400 1)" font-size="29.50" fill="#000" stroke="#000" stroke-width="0.58" font-family="Liberation Sans, sans-serif">0.4</text>
<text transform="translate(100.19 196.50) scale(1.0400 1)" font-size="29.50" fill="#000" stroke="#000" stroke-width="0.58" font-family="Liberation Sans, sans-serif">0.2</text>
<text transform="translate(99.85 234.50) scale(1.0400 1)" font-size="29.50" fill="#000" stroke="#000" stroke-width="0.58" font-family="Liberation Sans, sans-serif">0.0</text>
<text transform="translate(99.85 254.00) scale(1.0400 1)" font-size="29.50" fill="#000" stroke="#000" stroke-width="0.58" font-family="Liberation Sans, sans-serif">1.0</text>
<text transform="translate(99.98 290.60) scale(1.0400 1)" font-size="29.50" fill="#000" stroke="#000" stroke-width="0.58" font-family="Liberation Sans, sans-serif">0.8</text>
<text transform="translate(100.00 327.20) scale(1.0400 1)" font-size="29.50" fill="#000" stroke="#000" stroke-width="0.58" font-family="Liberation Sans, sans-serif">0.6</text>
<text transform="translate(99.55 363.80) scale(1.0400 1)" font-size="29.50" fill="#000" stroke="#000" stroke-width="0.58" font-family="Liberation Sans, sans-serif">0.4</text>
<text transform="translate(100.19 400.50) scale(1.0400 1)" font-size="29.50" fill="#000" stroke="#000" stroke-width="0.58" font-family="Liberation Sans, sans-serif">0.2</text>
<text transform="translate(99.85 437.10) scale(1.0400 1)" font-size="29.50" fill="#000" stroke="#000" stroke-width="0.58" font-family="Liberation Sans, sans-serif">0.0</text>
<text transform="translate(100.85 582.30) scale(1.0400 1)" font-size="29.50" fill="#000" stroke="#000" stroke-width="0.58" font-family="Liberation Sans, sans-serif">1.0</text>
<text transform="translate(100.98 620.80) scale(1.0400 1)" font-size="29.50" fill="#000" stroke="#000" stroke-width="0.58" font-family="Liberation Sans, sans-serif">0.8</text>
<text transform="translate(101.00 659.30) scale(1.0400 1)" font-size="29.50" fill="#000" stroke="#000" stroke-width="0.58" font-family="Liberation Sans, sans-serif">0.6</text>
<text transform="translate(100.55 697.70) scale(1.0400 1)" font-size="29.50" fill="#000" stroke="#000" stroke-width="0.58" font-family="Liberation Sans, sans-serif">0.4</text>
<text transform="translate(101.19 736.20) scale(1.0400 1)" font-size="29.50" fill="#000" stroke="#000" stroke-width="0.58" font-family="Liberation Sans, sans-serif">0.2</text>
<text transform="translate(100.85 774.70) scale(1.0400 1)" font-size="29.50" fill="#000" stroke="#000" stroke-width="0.58" font-family="Liberation Sans, sans-serif">0.0</text>
<text transform="translate(100.85 802.80) scale(1.0400 1)" font-size="29.50" fill="#000" stroke="#000" stroke-width="0.58" font-family="Liberation Sans, sans-serif">1.0</text>
<text transform="translate(100.98 839.40) scale(1.0400 1)" font-size="29.50" fill="#000" stroke="#000" stroke-width="0.58" font-family="Liberation Sans, sans-serif">0.8</text>
<text transform="translate(101.00 876.00) scale(1.0400 1)" font-size="29.50" fill="#000" stroke="#000" stroke-width="0.58" font-family="Liberation Sans, sans-serif">0.6</text>
<text transform="translate(100.55 912.60) scale(1.0400 1)" font-size="29.50" fill="#000" stroke="#000" stroke-width="0.58" font-family="Liberation Sans, sans-serif">0.4</text>
<text transform="translate(101.19 949.20) scale(1.0400 1)" font-size="29.50" fill="#000" stroke="#000" stroke-width="0.58" font-family="Liberation Sans, sans-serif">0.2</text>
<text transform="translate(100.85 985.90) scale(1.0400 1)" font-size="29.50" fill="#000" stroke="#000" stroke-width="0.58" font-family="Liberation Sans, sans-serif">0.0</text>
<text transform="translate(163.39 496.10) scale(1.0500 1)" font-size="29.50" fill="#000" stroke="#000" stroke-width="0.57" font-family="Liberation Sans, sans-serif">0</text>
<text transform="translate(163.89 1042.80) scale(1.0500 1)" font-size="29.50" fill="#000" stroke="#000" stroke-width="0.57" font-family="Liberation Sans, sans-serif">0</text>
<text transform="translate(345.25 496.10) scale(1.0500 1)" font-size="29.50" fill="#000" stroke="#000" stroke-width="0.57" font-family="Liberation Sans, sans-serif">20</text>
<text transform="translate(331.88 1042.80) scale(1.0500 1)" font-size="29.50" fill="#000" stroke="#000" stroke-width="0.57" font-family="Liberation Sans, sans-serif">20</text>
<text transform="translate(536.32 496.10) scale(1.0500 1)" font-size="29.50" fill="#000" stroke="#000" stroke-width="0.57" font-family="Liberation Sans, sans-serif">40</text>
<text transform="translate(509.08 1042.80) scale(1.0500 1)" font-size="29.50" fill="#000" stroke="#000" stroke-width="0.57" font-family="Liberation Sans, sans-serif">40</text>
<text transform="translate(726.54 496.10) scale(1.0500 1)" font-size="29.50" fill="#000" stroke="#000" stroke-width="0.57" font-family="Liberation Sans, sans-serif">60</text>
<text transform="translate(685.43 1042.80) scale(1.0500 1)" font-size="29.50" fill="#000" stroke="#000" stroke-width="0.57" font-family="Liberation Sans, sans-serif">60</text>
<text transform="translate(917.31 496.10) scale(1.0500 1)" font-size="29.50" fill="#000" stroke="#000" stroke-width="0.57" font-family="Liberation Sans, sans-serif">80</text>
<text transform="translate(862.33 1042.80) scale(1.0500 1)" font-size="29.50" fill="#000" stroke="#000" stroke-width="0.57" font-family="Liberation Sans, sans-serif">80</text>
<text transform="translate(506.06 531.90) scale(0.9625 1)" font-size="29.80" fill="#000" stroke="#000" stroke-width="0.62" font-family="Liberation Sans, sans-serif">Time (min)</text>
<text transform="translate(505.25 1078.70) scale(0.9732 1)" font-size="29.80" fill="#000" stroke="#000" stroke-width="0.62" font-family="Liberation Sans, sans-serif">Time (min)</text>
<text transform="translate(45.00 430.78) rotate(-90) scale(0.9556 1)" font-size="29.1" fill="#000" stroke="#000" stroke-width="0.63" font-family="Liberation Sans, sans-serif">Normalized RGA Signal Intensity</text>
<text transform="translate(36.50 979.78) rotate(-90) scale(0.9554 1)" font-size="29.1" fill="#000" stroke="#000" stroke-width="0.63" font-family="Liberation Sans, sans-serif">Normalized RGA Signal Intensity</text>
<text transform="translate(280.97 48.00) scale(0.8127 1)" font-size="30.40" fill="#000" stroke="#000" stroke-width="0.74" font-family="Liberation Sans, sans-serif">H</text>
<text transform="translate(299.66 54.60) scale(1.0135 1)" font-size="20.90" fill="#000" stroke="#000" stroke-width="0.84" font-family="Liberation Sans, sans-serif">2</text>
<text transform="translate(312.71 28.30) scale(1.0151 1)" font-size="20.90" fill="#000" stroke="#000" stroke-width="0.84" font-family="Liberation Sans, sans-serif">16</text>
<text transform="translate(335.64 48.10) scale(0.8665 1)" font-size="30.60" fill="#000" stroke="#000" stroke-width="0.69" font-family="Liberation Sans, sans-serif">O</text>
<text transform="translate(238.51 88.40) scale(0.9576 1)" font-size="31.00" fill="#000" stroke="#000" stroke-width="0.63" font-family="Liberation Sans, sans-serif">injected into</text>
<text transform="translate(267.60 123.00) scale(0.9202 1)" font-size="31.00" fill="#000" stroke="#000" stroke-width="0.65" font-family="Liberation Sans, sans-serif">gas feed</text>
<text transform="translate(247.20 609.50) scale(0.9110 1)" font-size="28.10" fill="#000" stroke="#000" stroke-width="0.66" font-family="Liberation Sans, sans-serif">H</text>
<text transform="translate(267.53 616.20) scale(0.9643 1)" font-size="20.60" fill="#000" stroke="#000" stroke-width="0.88" font-family="Liberation Sans, sans-serif">2</text>
<text transform="translate(280.19 590.30) scale(0.9761 1)" font-size="20.60" fill="#000" stroke="#000" stroke-width="0.87" font-family="Liberation Sans, sans-serif">16</text>
<text transform="translate(302.82 610.10) scale(0.9076 1)" font-size="29.70" fill="#000" stroke="#000" stroke-width="0.66" font-family="Liberation Sans, sans-serif">O</text>
<text transform="translate(204.90 648.60) scale(1.0134 1)" font-size="29.50" fill="#000" stroke="#000" stroke-width="0.59" font-family="Liberation Sans, sans-serif">injected into</text>
<text transform="translate(230.59 684.30) scale(0.9751 1)" font-size="29.50" fill="#000" stroke="#000" stroke-width="0.62" font-family="Liberation Sans, sans-serif">gas feed</text>
<text transform="translate(894.96 41.40) scale(0.9368 1)" font-size="27.90" fill="#000" stroke="#000" stroke-width="0.64" font-family="Liberation Sans, sans-serif">H</text>
<text transform="translate(913.19 48.30) scale(1.1479 1)" font-size="19.60" fill="#000" stroke="#000" stroke-width="0.74" font-family="Liberation Sans, sans-serif">2</text>
<text transform="translate(927.56 21.80) scale(1.0735 1)" font-size="19.20" fill="#000" stroke="#000" stroke-width="0.79" font-family="Liberation Sans, sans-serif">16</text>
<text transform="translate(949.65 42.10) scale(0.9252 1)" font-size="28.50" fill="#000" stroke="#000" stroke-width="0.65" font-family="Liberation Sans, sans-serif">O</text>
<text transform="translate(894.96 93.40) scale(0.9075 1)" font-size="28.80" fill="#000" stroke="#000" stroke-width="0.66" font-family="Liberation Sans, sans-serif">H</text>
<text transform="translate(913.19 100.30) scale(1.1479 1)" font-size="19.60" fill="#000" stroke="#000" stroke-width="0.74" font-family="Liberation Sans, sans-serif">2</text>
<text transform="translate(927.56 72.00) scale(1.0730 1)" font-size="19.20" fill="#000" stroke="#000" stroke-width="0.79" font-family="Liberation Sans, sans-serif">18</text>
<text transform="translate(949.65 93.60) scale(0.9156 1)" font-size="28.80" fill="#000" stroke="#000" stroke-width="0.66" font-family="Liberation Sans, sans-serif">O</text>
<text transform="translate(895.23 131.90) scale(0.8734 1)" font-size="28.90" fill="#000" stroke="#000" stroke-width="0.69" font-family="Liberation Sans, sans-serif">H</text>
<text transform="translate(913.96 138.90) scale(1.0135 1)" font-size="20.90" fill="#000" stroke="#000" stroke-width="0.84" font-family="Liberation Sans, sans-serif">2</text>
<text transform="translate(926.02 132.10) scale(0.8617 1)" font-size="28.90" fill="#000" stroke="#000" stroke-width="0.70" font-family="Liberation Sans, sans-serif">O</text>
<text transform="translate(953.74 131.90) scale(1.0135 1)" font-size="28.90" fill="#000" stroke="#000" stroke-width="0.59" font-family="Liberation Sans, sans-serif">Total</text>
<text transform="translate(896.59 197.10) scale(1.1614 1)" font-size="17.40" fill="#000" stroke="#000" stroke-width="0.73" font-family="Liberation Sans, sans-serif">16</text>
<text transform="translate(918.70 216.90) scale(0.8831 1)" font-size="28.70" fill="#000" stroke="#000" stroke-width="0.68" font-family="Liberation Sans, sans-serif">O</text>
<text transform="translate(939.31 197.10) scale(1.2187 1)" font-size="17.40" fill="#000" stroke="#000" stroke-width="0.70" font-family="Liberation Sans, sans-serif">18</text>
<text transform="translate(962.06 216.90) scale(0.9086 1)" font-size="28.70" fill="#000" stroke="#000" stroke-width="0.66" font-family="Liberation Sans, sans-serif">O</text>
<text transform="translate(848.37 576.20) scale(0.9013 1)" font-size="28.80" fill="#000" stroke="#000" stroke-width="0.67" font-family="Liberation Sans, sans-serif">H</text>
<text transform="translate(865.51 582.70) scale(1.1775 1)" font-size="20.60" fill="#000" stroke="#000" stroke-width="0.72" font-family="Liberation Sans, sans-serif">2</text>
<text transform="translate(882.50 555.60) scale(0.9738 1)" font-size="19.20" fill="#000" stroke="#000" stroke-width="0.87" font-family="Liberation Sans, sans-serif">16</text>
<text transform="translate(902.97 577.00) scale(0.8790 1)" font-size="29.50" fill="#000" stroke="#000" stroke-width="0.68" font-family="Liberation Sans, sans-serif">O</text>
<text transform="translate(839.37 626.70) scale(0.9013 1)" font-size="28.80" fill="#000" stroke="#000" stroke-width="0.67" font-family="Liberation Sans, sans-serif">H</text>
<text transform="translate(857.02 633.20) scale(1.1668 1)" font-size="20.60" fill="#000" stroke="#000" stroke-width="0.73" font-family="Liberation Sans, sans-serif">2</text>
<text transform="translate(872.29 606.50) scale(1.0520 1)" font-size="19.20" fill="#000" stroke="#000" stroke-width="0.81" font-family="Liberation Sans, sans-serif">18</text>
<text transform="translate(894.48 627.50) scale(0.8740 1)" font-size="29.50" fill="#000" stroke="#000" stroke-width="0.69" font-family="Liberation Sans, sans-serif">O</text>
<text transform="translate(839.28 664.80) scale(0.9485 1)" font-size="28.50" fill="#000" stroke="#000" stroke-width="0.63" font-family="Liberation Sans, sans-serif">H</text>
<text transform="translate(859.06 671.60) scale(0.8499 1)" font-size="22.60" fill="#000" stroke="#000" stroke-width="1.00" font-family="Liberation Sans, sans-serif">2</text>
<text transform="translate(870.21 665.20) scale(0.9237 1)" font-size="29.50" fill="#000" stroke="#000" stroke-width="0.65" font-family="Liberation Sans, sans-serif">O</text>
<text transform="translate(898.94 664.80) scale(1.0343 1)" font-size="28.50" fill="#000" stroke="#000" stroke-width="0.58" font-family="Liberation Sans, sans-serif">Total</text>
<text transform="translate(841.62 730.70) scale(1.0370 1)" font-size="19.00" fill="#000" stroke="#000" stroke-width="0.82" font-family="Liberation Sans, sans-serif">16</text>
<text transform="translate(863.84 749.90) scale(0.9207 1)" font-size="28.80" fill="#000" stroke="#000" stroke-width="0.65" font-family="Liberation Sans, sans-serif">O</text>
<text transform="translate(884.54 730.70) scale(1.0949 1)" font-size="19.00" fill="#000" stroke="#000" stroke-width="0.78" font-family="Liberation Sans, sans-serif">18</text>
<text transform="translate(907.27 749.90) scale(0.9003 1)" font-size="28.80" fill="#000" stroke="#000" stroke-width="0.67" font-family="Liberation Sans, sans-serif">O</text>
<path d="M827.6 31.3H882.0" stroke="#000" stroke-width="7" fill="none"/>
<path d="M827.6 83.3H882.0" stroke="#000" stroke-width="7.5" fill="none" stroke-dasharray="10.5 10.7"/>
<path d="M827.6 122.2H882.0" stroke="#505050" stroke-width="6" fill="none"/>
<path d="M827.6 207.9H882.0" stroke="#505050" stroke-width="5.5" fill="none" stroke-dasharray="10.3 10.6"/>
<path d="M771.8 566.3H826.6" stroke="#000" stroke-width="7" fill="none"/>
<path d="M771.8 616.5H826.6" stroke="#000" stroke-width="7.5" fill="none" stroke-dasharray="10.5 10.7"/>
<path d="M771.8 655.7H826.6" stroke="#3d3d3d" stroke-width="6" fill="none"/>
<path d="M771.8 741.4H826.6" stroke="#3d3d3d" stroke-width="5.5" fill="none" stroke-dasharray="10.3 10.6"/>
<rect x="100.75" y="40.50" width="6.47" height="5.00" fill="#fff"/>
<rect x="110.63" y="40.50" width="6.03" height="5.00" fill="#fff"/>
<rect x="100.75" y="250.50" width="6.47" height="5.00" fill="#fff"/>
<rect x="110.63" y="250.50" width="6.03" height="5.00" fill="#fff"/>
<rect x="101.75" y="578.80" width="6.47" height="5.00" fill="#fff"/>
<rect x="111.63" y="578.80" width="6.03" height="5.00" fill="#fff"/>
<rect x="101.75" y="799.30" width="6.47" height="5.00" fill="#fff"/>
<rect x="111.63" y="799.30" width="6.03" height="5.00" fill="#fff"/>
<rect x="312.96" y="25.31" width="4.61" height="4.61" fill="#fff"/>
<rect x="320.39" y="25.31" width="4.24" height="4.61" fill="#fff"/>
<rect x="280.37" y="587.34" width="4.41" height="4.59" fill="#fff"/>
<rect x="287.50" y="587.34" width="4.05" height="4.59" fill="#fff"/>
<rect x="927.76" y="18.94" width="4.50" height="4.48" fill="#fff"/>
<rect x="935.03" y="18.94" width="4.14" height="4.48" fill="#fff"/>
<rect x="927.76" y="69.14" width="4.50" height="4.48" fill="#fff"/>
<rect x="935.03" y="69.14" width="4.14" height="4.48" fill="#fff"/>
<rect x="896.77" y="194.38" width="4.43" height="4.35" fill="#fff"/>
<rect x="903.93" y="194.38" width="4.07" height="4.35" fill="#fff"/>
<rect x="939.56" y="194.38" width="4.61" height="4.35" fill="#fff"/>
<rect x="946.99" y="194.38" width="4.24" height="4.35" fill="#fff"/>
<rect x="882.58" y="552.74" width="4.15" height="4.48" fill="#fff"/>
<rect x="889.33" y="552.74" width="3.80" height="4.48" fill="#fff"/>
<rect x="872.47" y="603.64" width="4.42" height="4.48" fill="#fff"/>
<rect x="879.63" y="603.64" width="4.07" height="4.48" fill="#fff"/>
<rect x="841.77" y="727.86" width="4.33" height="4.47" fill="#fff"/>
<rect x="848.80" y="727.86" width="3.98" height="4.47" fill="#fff"/>
<rect x="884.76" y="727.86" width="4.53" height="4.47" fill="#fff"/>
<rect x="892.08" y="727.86" width="4.17" height="4.47" fill="#fff"/>
</svg></body></html>
